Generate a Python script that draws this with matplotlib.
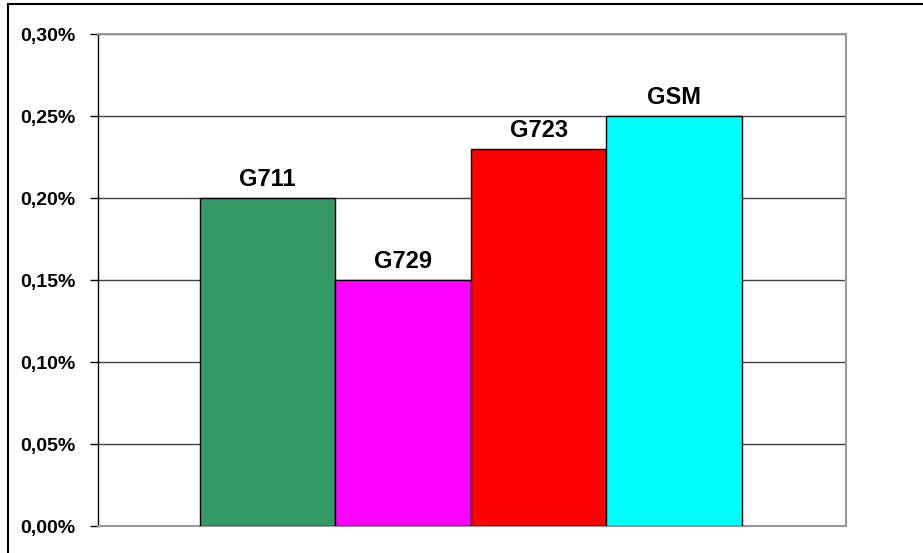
import matplotlib
matplotlib.use("Agg")
import matplotlib.pyplot as plt
from matplotlib.patches import Rectangle
from matplotlib.ticker import FuncFormatter

plt.rcParams['font.family'] = ['Liberation Sans', 'DejaVu Sans']

codecs = ["G711", "G729", "G723", "GSM"]
values = [0.20, 0.15, 0.23, 0.25]  # percent
colors = ["#339966", "#FF00FF", "#FF0000", "#00FFFF"]
yticks = [0.00, 0.05, 0.10, 0.15, 0.20, 0.25, 0.30]

fig = plt.figure(figsize=(9.23, 5.53), dpi=100)
fig.patch.set_facecolor("white")
# outer chart border (only top and left edges fall inside the image)
fig.patches.append(Rectangle((8/923, -0.2), 1.2, 1.2 - 4/553, transform=fig.transFigure,
                             fill=False, edgecolor="black", linewidth=1.5, clip_on=False))

ax = fig.add_axes([98/923, 1 - 526/553, (846 - 98)/923, (526 - 34)/553])
x = list(range(len(codecs)))
ax.bar(x, values, width=1.0, color=colors, edgecolor="black", linewidth=1.0, zorder=3)

ax.set_xlim(-1.253, 4.27)
ax.set_ylim(0, 0.30)
ax.set_yticks(yticks)
ax.yaxis.set_major_formatter(FuncFormatter(lambda v, p: f"{v:.2f}%".replace(".", ",")))
ax.set_xticks([])
ax.yaxis.grid(True, color="#404040", linewidth=1.0, zorder=0)
ax.set_axisbelow(True)

for s in ["top", "right", "bottom"]:
    ax.spines[s].set_color("#999999")
    ax.spines[s].set_linewidth(1.5)
ax.spines["left"].set_color("black")
ax.spines["left"].set_linewidth(1.0)
ax.tick_params(axis="y", length=6, width=1, pad=10, labelsize=14)
for lab in ax.get_yticklabels():
    lab.set_fontweight("bold")

for xi, v, name in zip(x, values, codecs):
    ax.annotate(name, (xi, v), xytext=(0, 5), textcoords="offset points",
                ha="center", va="bottom", fontsize=17, fontweight="bold")

fig.savefig("out.png", dpi=100)
